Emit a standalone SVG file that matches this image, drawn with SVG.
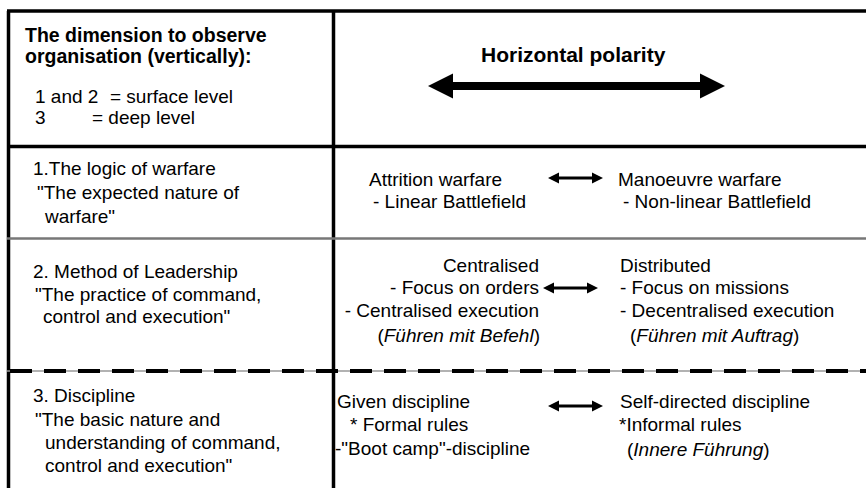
<svg xmlns="http://www.w3.org/2000/svg" width="866" height="488" viewBox="0 0 866 488">
<style>
.t{font-family:"Liberation Sans",Arial,sans-serif;font-size:19px;fill:#000}
.b{font-family:"Liberation Sans",Arial,sans-serif;font-weight:bold;fill:#000}
.i{font-style:italic}
.r{text-anchor:end}
.ln{stroke:#000;fill:none}
.ah{fill:#000}
</style>
<defs>
<g id="dbl">
<rect x="8" y="-1.5" width="39" height="3"/>
<polygon points="0,0 11,-5.5 11,5.5"/>
<polygon points="55,0 44,-5.5 44,5.5"/>
</g>
</defs>
<rect width="866" height="488" fill="#fff"/>
<g id="grid">
<line class="ln" x1="8.5" y1="11" x2="8.5" y2="488" stroke-width="3.5"/>
<line class="ln" x1="7" y1="11" x2="866" y2="11" stroke-width="3.5"/>
<line class="ln" x1="333.5" y1="11" x2="333.5" y2="488" stroke-width="3.5"/>
<line class="ln" x1="7" y1="146.5" x2="866" y2="146.5" stroke-width="3.5"/>
<line x1="7" y1="238.5" x2="866" y2="238.5" stroke="#777" stroke-width="2.5"/>
<line x1="7" y1="371" x2="866" y2="371" stroke="#999" stroke-width="1.5"/>
<line class="ln" x1="10" y1="371" x2="866" y2="371" stroke-width="4" stroke-dasharray="22 12" stroke-dashoffset="0"/>
</g>
<g id="header-left">
<text class="b" font-size="19.5" x="25" y="41.5">The dimension to observe</text>
<text class="b" font-size="19.5" x="25" y="63">organisation (vertically):</text>
<text class="t" x="35" y="103">1 and 2</text>
<text class="t" x="110" y="103">= surface level</text>
<text class="t" x="35" y="124">3</text>
<text class="t" x="92" y="124">= deep level</text>
</g>
<g id="header-right">
<text class="b" font-size="21" x="481" y="62">Horizontal polarity</text>
</g>
<g id="row1-left">
<text class="t" x="33" y="175">1.The logic of warfare</text>
<text class="t" x="37" y="199">"The expected nature of</text>
<text class="t" x="45" y="223">warfare"</text>
</g>
<g id="row1-attrition">
<text class="t" x="369" y="186">Attrition warfare</text>
<text class="t" x="373" y="208">- Linear Battlefield</text>
</g>
<g id="row1-manoeuvre">
<text class="t" x="618" y="186">Manoeuvre warfare</text>
<text class="t" x="623" y="208">- Non-linear Battlefield</text>
</g>
<g id="row2-left">
<text class="t" x="33" y="278">2. Method of Leadership</text>
<text class="t" x="35" y="301">"The practice of command,</text>
<text class="t" x="43" y="323">control and execution"</text>
</g>
<g id="row2-centralised">
<text class="t r" x="539" y="272">Centralised</text>
<text class="t r" x="539" y="294">- Focus on orders</text>
<text class="t r" x="539" y="317">- Centralised execution</text>
<text class="t r" x="540" y="342">(<tspan class="i">Führen mit Befehl</tspan>)</text>
</g>
<g id="row2-distributed">
<text class="t" x="620" y="272">Distributed</text>
<text class="t" x="620" y="294">- Focus on missions</text>
<text class="t" x="620" y="317">- Decentralised execution</text>
<text class="t" x="630" y="342">(<tspan class="i">Führen mit Auftrag</tspan>)</text>
</g>
<g id="row3-left">
<text class="t" x="33" y="402">3. Discipline</text>
<text class="t" x="35" y="426">"The basic nature and</text>
<text class="t" x="45" y="449">understanding of command,</text>
<text class="t" x="45" y="472">control and execution"</text>
</g>
<g id="row3-given">
<text class="t" x="337" y="408">Given discipline</text>
<text class="t" x="350" y="431">* Formal rules</text>
<text class="t" x="335" y="455">-"Boot camp"-discipline</text>
</g>
<g id="row3-self">
<text class="t" x="620" y="408">Self-directed discipline</text>
<text class="t" x="619" y="431">*Informal rules</text>
<text class="t" x="627" y="456">(<tspan class="i">Innere Führung</tspan>)</text>
</g>
<g id="connectors" class="ah">
<g id="big-arrow">
<rect x="450" y="82" width="253" height="8"/>
<polygon points="428,86 453,73.5 453,98.5"/>
<polygon points="725,86 700,73.5 700,98.5"/>
</g>
<use href="#dbl" x="548" y="178"/>
<use href="#dbl" x="543" y="288"/>
<use href="#dbl" x="548" y="406"/>
</g>
</svg>
